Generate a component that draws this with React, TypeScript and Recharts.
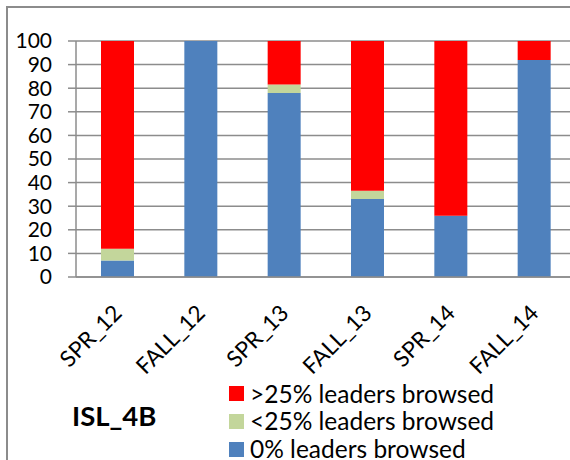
import { BarChart, Bar, XAxis, YAxis, CartesianGrid, Legend } from "recharts";

const terms = ["SPR_12", "FALL_12", "SPR_13", "FALL_13", "SPR_14", "FALL_14"];
const noneBrowsed = [7, 100, 78, 33, 26, 92];
const under25 = [5, 0, 3.6, 3.5, 0, 0];
const over25 = [88, 0, 18.4, 63.5, 74, 8];
const yTicks = [0, 10, 20, 30, 40, 50, 60, 70, 80, 90, 100];
const edgeTicks = [0, 1, 2, 3, 4, 5, 6];

const series = [
  { key: "none", name: "0% leaders browsed", color: "#4F81BD" },
  { key: "under", name: "<25% leaders browsed", color: "#C3D69B" },
  { key: "over", name: ">25% leaders browsed", color: "#FF0000" },
];

const data = terms.map((term, i) => ({
  term,
  none: noneBrowsed[i],
  under: under25[i],
  over: over25[i],
}));

const GRID = "#8c8c8c";

function TermTick({ x, y, payload }: any) {
  return (
    <g transform={`translate(${x},${y + 31})`}>
      <text transform="rotate(-45)" textAnchor="end" dy="0.35em" fontSize={22.5} fill="#000">
        {payload.value}
      </text>
    </g>
  );
}

function LegendBox({ payload }: any) {
  const items = [...(payload || [])].reverse();
  return (
    <div>
      {items.map((item: any) => (
        <div key={item.value} style={{ display: "flex", alignItems: "center", height: 27.7 }}>
          <span style={{ width: 15, height: 15, background: item.color, marginRight: 6 }} />
          <span style={{ fontSize: 24.5, color: "#000", lineHeight: 1 }}>{item.value}</span>
        </div>
      ))}
    </div>
  );
}

export default function App() {
  return (
    <div
      style={{
        position: "fixed",
        left: 0,
        top: 0,
        width: 570,
        height: 460,
        overflow: "hidden",
        background: "#fff",
        fontFamily: "Lato, sans-serif",
      }}
    >
      <div
        style={{
          position: "absolute",
          left: 6,
          top: 6,
          width: 620,
          height: 520,
          border: `2px solid ${GRID}`,
        }}
      />
      <BarChart
        width={600}
        height={460}
        data={data}
        barCategoryGap="30%"
        margin={{ top: 41, right: 24, left: 75, bottom: 181 }}
      >
        <CartesianGrid vertical={false} stroke={GRID} strokeWidth={1.5} />
        <XAxis
          xAxisId="edge"
          type="number"
          domain={[0, 6]}
          ticks={edgeTicks}
          tick={false}
          height={1}
          tickSize={8}
          stroke={GRID}
          strokeWidth={1.5}
        />
        <XAxis
          xAxisId="term"
          dataKey="term"
          height={1}
          axisLine={false}
          tickLine={false}
          tickSize={0}
          tickMargin={0}
          interval={0}
          tick={<TermTick />}
        />
        <YAxis
          width={1}
          domain={[0, 100]}
          ticks={yTicks}
          interval={0}
          tickSize={8}
          tickMargin={16}
          stroke={GRID}
          strokeWidth={1.5}
          tick={{ fill: "#000", fontSize: 21 }}
        />
        {series.map((s) => (
          <Bar
            key={s.key}
            xAxisId="term"
            dataKey={s.key}
            name={s.name}
            stackId="a"
            fill={s.color}
            isAnimationActive={false}
          />
        ))}
        <Legend
          layout="vertical"
          align="center"
          verticalAlign="middle"
          wrapperStyle={{ left: 229, top: 380, width: 330 }}
          content={<LegendBox />}
        />
      </BarChart>
      <div
        style={{
          position: "absolute",
          left: 72,
          top: 402,
          fontSize: 27.5,
          fontWeight: 700,
          lineHeight: 1,
          color: "#000",
        }}
      >
        ISL_4B
      </div>
    </div>
  );
}
